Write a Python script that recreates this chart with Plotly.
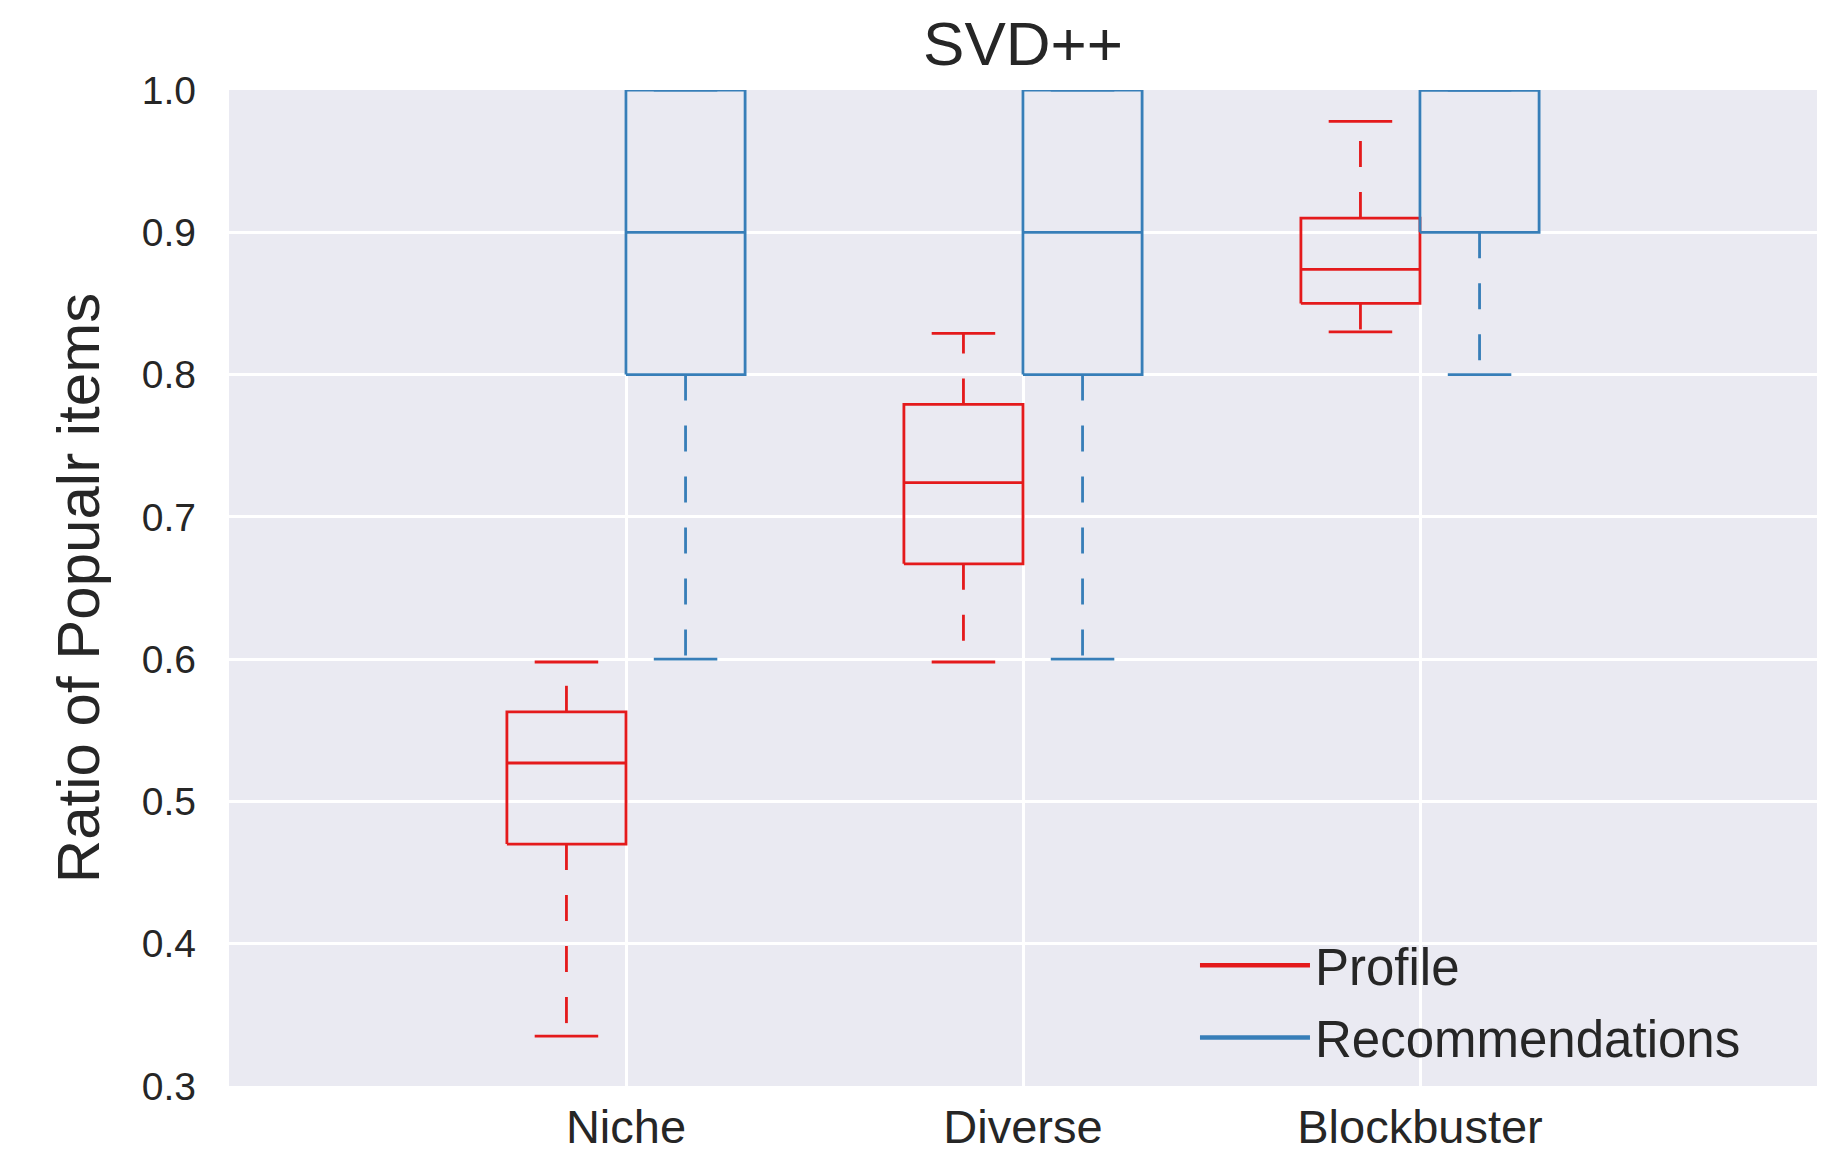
import plotly.graph_objects as go

# ---------------- data ----------------
categories = ["Niche", "Diverse", "Blockbuster"]

profile_lower = [0.335, 0.598, 0.830]
profile_q1 = [0.470, 0.667, 0.850]
profile_median = [0.527, 0.724, 0.874]
profile_q3 = [0.563, 0.779, 0.910]
profile_upper = [0.598, 0.829, 0.978]

rec_lower = [0.6, 0.6, 0.8]
rec_q1 = [0.8, 0.8, 0.9]
rec_median = [0.9, 0.9, 1.0]
rec_q3 = [1.0, 1.0, 1.0]
rec_upper = [1.0, 1.0, 1.0]

y_ticks = [0.3, 0.4, 0.5, 0.6, 0.7, 0.8, 0.9, 1.0]

# ---------------- style ----------------
RED = "#e41a1c"
BLUE = "#377eb8"
BG = "#EAEAF2"
TEXT = "#262626"
FONT = "Liberation Sans, Arial, sans-serif"
BOX_HALF = 0.15
CAP_HALF = 0.08
LW = 2.8

W, H = 1825, 1156
ML, MR, MT, MB = 229, 8, 90, 70

series = [
    ("Profile", RED, -0.15, profile_lower, profile_q1, profile_median, profile_q3, profile_upper),
    ("Recommendations", BLUE, 0.15, rec_lower, rec_q1, rec_median, rec_q3, rec_upper),
]

fig = go.Figure()

for name, color, off, lo, q1, med, q3, up in series:
    bx, by, wx, wy, cx, cy = [], [], [], [], [], []
    for i in range(len(categories)):
        p = i + 1 + off
        # box rectangle + median
        bx += [p - BOX_HALF, p + BOX_HALF, p + BOX_HALF, p - BOX_HALF, p - BOX_HALF, None,
               p - BOX_HALF, p + BOX_HALF, None]
        by += [q1[i], q1[i], q3[i], q3[i], q1[i], None, med[i], med[i], None]
        # whiskers (drawn outward from the box)
        wx += [p, p, None, p, p, None]
        wy += [q1[i], lo[i], None, q3[i], up[i], None]
        # caps
        cx += [p - CAP_HALF, p + CAP_HALF, None, p - CAP_HALF, p + CAP_HALF, None]
        cy += [lo[i], lo[i], None, up[i], up[i], None]
    fig.add_trace(go.Scatter(x=wx, y=wy, mode="lines", showlegend=False, hoverinfo="skip",
                             legendgroup=name,
                             line=dict(color=color, width=LW, dash="26px,25px")))
    fig.add_trace(go.Scatter(x=cx, y=cy, mode="lines", showlegend=False, hoverinfo="skip",
                             legendgroup=name,
                             line=dict(color=color, width=LW)))
    fig.add_trace(go.Scatter(x=bx, y=by, mode="lines", name=name, showlegend=False,
                             legendgroup=name,
                             line=dict(color=color, width=LW)))
    # legend entry (thicker line, as in the reference legend)
    fig.add_trace(go.Scatter(x=[None], y=[None], mode="lines", name=name,
                             legendgroup=name, showlegend=True,
                             line=dict(color=color, width=4.5)))

plot_h = H - MT - MB
legend_mid = (H - MB - 1001.5) / plot_h

fig.update_layout(
    width=W, height=H,
    margin=dict(l=ML, r=MR, t=MT, b=MB, pad=0),
    paper_bgcolor="white",
    plot_bgcolor=BG,
    font=dict(family=FONT, color=TEXT),
    title=dict(text="SVD++", x=(ML + W - MR) / 2 / W, xanchor="center",
               y=1 - 43 / H, yanchor="middle", yref="container",
               font=dict(size=62, color=TEXT)),
    xaxis=dict(range=[0, 4], tickvals=[1, 2, 3], ticktext=categories,
               showgrid=True, gridcolor="white", gridwidth=2.5, zeroline=False,
               showline=False, ticks="", tickfont=dict(size=47, color=TEXT),
               ticklabelstandoff=9, automargin=False),
    yaxis=dict(range=[0.3, 1.0], tickvals=y_ticks, tickformat=".1f",
               showgrid=True, gridcolor="white", gridwidth=2.5, zeroline=False,
               showline=False, ticks="", tickfont=dict(size=39, color=TEXT),
               ticklabelstandoff=32, automargin=False,
               title=dict(text="Ratio of Popualr items", font=dict(size=60, color=TEXT),
                          standoff=22)),
    legend=dict(x=0.6083, y=legend_mid, xanchor="left", yanchor="middle",
                bgcolor="rgba(0,0,0,0)", font=dict(size=51, color=TEXT),
                itemwidth=110, tracegroupgap=3),
)

fig.write_html(
    "out.html",
    config={"displayModeBar": False},
    post_script="document.body.style.margin='0';document.body.style.overflow='hidden';",
)
